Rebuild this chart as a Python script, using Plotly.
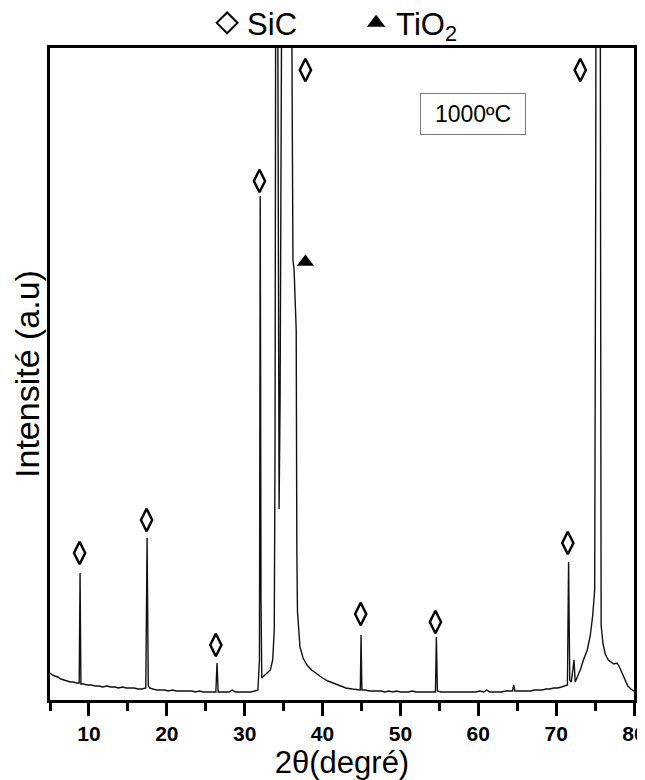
import plotly.graph_objects as go

# XRD pattern (2theta in degrees, intensity in arbitrary units)
two_theta = [5.0, 5.3, 5.6, 6.0, 6.4, 6.8, 7.2, 7.6, 8.0, 8.4, 8.75, 8.86, 8.97, 9.3, 9.8,
             10.3, 10.8, 11.3, 11.8, 12.3, 12.8, 13.3, 13.8, 14.3, 14.8, 15.3, 15.8, 16.3,
             16.8, 17.3, 17.47, 17.62, 17.8, 18.2, 18.7, 19.2, 19.7, 20.2, 20.7, 21.2, 21.7,
             22.2, 22.7, 23.2, 23.7, 24.2, 24.7, 25.2, 25.7, 26.3, 26.45, 26.6, 27.0, 27.5,
             28.0, 28.4, 28.8, 29.3, 29.8, 30.3, 30.8, 31.3, 31.7, 31.9, 32.0, 32.1, 32.2,
             32.6, 33.0, 33.3, 33.6, 33.8, 33.9, 34.0, 34.15, 34.3, 34.42, 34.55, 34.75,
             35.0, 35.5, 35.9, 36.1, 36.2, 36.35, 36.5, 36.62, 36.7, 36.78, 37.1, 37.5,
             38.0, 38.6, 39.3, 40.0, 40.7, 41.4, 42.2, 43.0, 43.8, 44.5, 44.85, 44.95,
             45.05, 45.5, 46.0, 46.5, 47.0, 47.5, 48.0, 48.5, 49.0, 49.5, 50.0, 50.5, 51.0,
             51.5, 52.0, 52.5, 53.0, 53.5, 54.0, 54.5, 54.62, 54.75, 55.2, 55.7, 56.2, 56.7,
             57.2, 57.7, 58.2, 58.7, 59.2, 59.7, 60.2, 60.7, 61.1, 61.5, 62.0, 62.5, 63.0,
             63.5, 64.0, 64.4, 64.55, 64.7, 65.2, 65.7, 66.2, 66.7, 67.2, 67.7, 68.2, 68.7,
             69.2, 69.7, 70.2, 70.7, 71.2, 71.45, 71.6, 71.75, 71.95, 72.3, 72.45, 72.7,
             73.1, 73.5, 74.0, 74.4, 74.7, 74.95, 75.08, 75.2, 75.4, 75.6, 75.7, 75.78,
             76.0, 76.3, 76.7, 77.0, 77.4, 77.8, 78.0, 78.3, 78.7, 79.2, 79.6, 80.0]
intensity = [27, 25, 24, 23, 21, 20, 19, 18, 18, 17, 17, 127, 16, 16, 15,
             15, 14, 14, 13, 14, 13, 13, 12, 13, 12, 12, 12, 11,
             11, 12, 162, 14, 12, 11, 10, 10, 10, 9, 10, 9, 9,
             9, 9, 9, 8, 9, 8, 8, 8, 8, 37, 8, 8, 8,
             8, 10, 8, 8, 8, 8, 8, 9, 10, 40, 504, 100, 22,
             25, 28, 30, 40, 70, 250, 800, 1000, 600, 191, 300, 800,
             1200, 1500, 1000, 600, 440, 430, 400, 370, 150, 89, 53, 42,
             35, 30, 26, 22, 19, 17, 14, 12, 11, 10, 10, 65,
             10, 10, 9, 9, 9, 9, 8, 9, 8, 9, 8, 8, 8,
             9, 8, 8, 8, 8, 8, 8, 63, 9, 8, 8, 8, 8,
             8, 8, 8, 8, 8, 8, 9, 8, 10, 8, 8, 8, 8,
             9, 9, 9, 15, 9, 9, 9, 9, 9, 10, 10, 10, 11,
             11, 12, 12, 13, 14, 15, 138, 20, 18, 40, 18, 22,
             30, 40, 50, 65, 85, 110, 500, 1200, 1500, 1200, 500, 75,
             57, 46, 40, 38, 36, 37, 35, 30, 22, 14, 11, 9]

# peak labels
sic_x = [8.8, 17.4, 26.3, 31.9, 37.8, 44.9, 54.5, 71.5, 73.1]
sic_y = [147, 180, 55, 519, 630, 86, 78, 157, 630]
tio2_x = [37.8]
tio2_y = [438]

fig = go.Figure()

fig.add_trace(go.Scatter(x=two_theta, y=intensity, mode="lines",
                         line=dict(color="#111111", width=1.4),
                         showlegend=False, hoverinfo="skip"))

fig.add_trace(go.Scatter(x=sic_x, y=sic_y, mode="markers", showlegend=False,
                         marker=dict(symbol="diamond-tall-open", size=16, color="black",
                                     line=dict(width=2.5, color="black"))))
fig.add_trace(go.Scatter(x=tio2_x, y=tio2_y, mode="markers", showlegend=False,
                         marker=dict(symbol="triangle-up", size=15, color="black")))

# header keys
fig.add_trace(go.Scatter(x=[None], y=[None], mode="markers", name="SiC",
                         marker=dict(symbol="diamond-open", size=16, color="black",
                                     line=dict(width=2, color="black"))))
fig.add_trace(go.Scatter(x=[None], y=[None], mode="markers", name="TiO<sub>2</sub>",
                         marker=dict(symbol="triangle-up", size=16, color="black")))

fig.add_annotation(x=0.724, y=0.899, xref="paper", yref="paper", text="1000ºC",
                   xanchor="center", yanchor="middle",
                   showarrow=False, font=dict(size=23, color="black"),
                   bordercolor="#777777", borderwidth=1, borderpad=2,
                   width=100, height=36)

# page body keeps an 8px margin, so the figure is 8px smaller than the window
fig.update_layout(
    width=637, height=772,
    margin=dict(l=42, r=11, t=40, b=80, autoexpand=False),
    plot_bgcolor="white", paper_bgcolor="white",
    font=dict(family="Liberation Sans, Arial, sans-serif", color="black"),
    legend=dict(orientation="h", x=0.269, y=1.038, xanchor="left", yanchor="middle",
                font=dict(size=31), entrywidth=104, bgcolor="rgba(0,0,0,0)"),
)

fig.update_xaxes(range=[5, 80], tickvals=[10, 20, 30, 40, 50, 60, 70, 80],
                 ticks="outside", ticklen=13, tickwidth=2.5, tickcolor="black",
                 tickfont=dict(size=21, family="Liberation Sans, Arial", weight="bold"),
                 ticklabeloverflow="allow",
                 showline=True, linewidth=3, linecolor="black", mirror=True,
                 showgrid=False, zeroline=False,
                 minor=dict(tickvals=[5, 15, 25, 35, 45, 55, 65, 75], ticks="outside",
                            ticklen=8, tickwidth=2.5, tickcolor="black"),
                 title=dict(text="2θ(degré)", font=dict(size=31), standoff=2))
fig.update_yaxes(range=[0, 652], showticklabels=False, ticks="",
                 showline=True, linewidth=3, linecolor="black", mirror=True,
                 showgrid=False, zeroline=False,
                 title=dict(text="Intensité (a.u)", font=dict(size=34), standoff=1))

fig.write_html("out.html")
